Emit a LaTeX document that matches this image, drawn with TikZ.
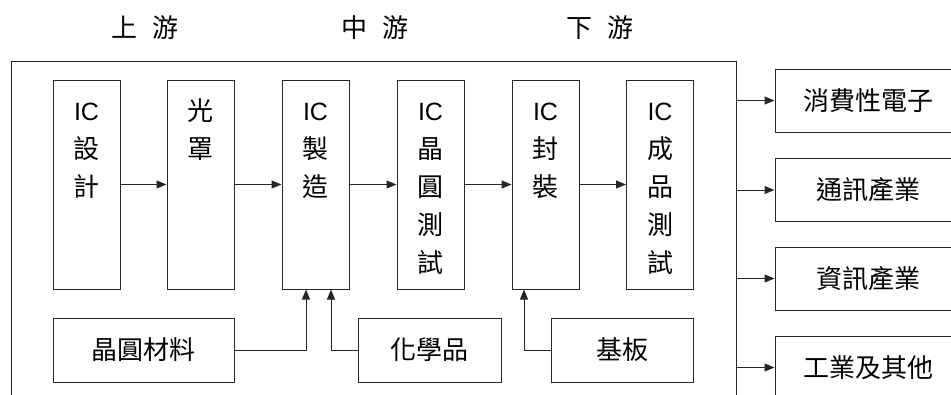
\documentclass[tikz,border=0pt]{standalone}
\usepackage{fontspec}
\setmainfont{Noto Sans CJK TC}
\newfontfamily\latf{Liberation Sans}
\usetikzlibrary{arrows.meta}
\newcommand\cjkfs{\fontsize{26pt}{38pt}\selectfont}
\newcommand\IC{{\latf\fontsize{25pt}{38pt}\selectfont IC}}
\newcommand\coltext[1]{\parbox[t]{60pt}{\centering\cjkfs #1}}
\tikzset{
 ln/.style={draw=black!85, line width=1pt},
 tall/.style={ln, minimum width=67pt, minimum height=209pt, inner sep=0pt},
 wide/.style={ln, minimum height=64pt, inner sep=0pt, font=\cjkfs},
 rbox/.style={ln, minimum width=186pt, minimum height=63pt, inner sep=0pt, font=\cjkfs},
 arr/.style={ln, -{Triangle[length=10pt,width=8pt]}},
 head/.style={font=\cjkfs, inner sep=0pt},
 colt/.style={inner sep=0pt, anchor=base}
}
\begin{document}
\begin{tikzpicture}[x=1pt,y=-1pt]
\useasboundingbox (0,0) rectangle (951,394);
\clip (0,0) rectangle (951,394);
% headings
\node[head] (h1) at (145,28) {上\hspace{0.6em}游};
\node[head] (h2) at (375,28) {中\hspace{0.6em}游};
\node[head] (h3) at (600,28) {下\hspace{0.6em}游};
% frame
\node[ln, anchor=north west, minimum width=725pt, minimum height=400pt, inner sep=0pt] (frame) at (11,61) {};
% tall boxes
\node[tall] (b1) at (86.5,184.5) {};
\node[tall] (b2) at (200.5,184.5) {};
\node[tall] (b3) at (315.5,184.5) {};
\node[tall] (b4) at (430.5,184.5) {};
\node[tall] (b5) at (545.5,184.5) {};
\node[tall] (b6) at (660,184.5) {};
\node[colt] (t1) at (86.5,120) {\coltext{\IC\\設\\計}};
\node[colt] (t2) at (200.5,120) {\coltext{光\\罩}};
\node[colt] (t3) at (315.5,120) {\coltext{\IC\\製\\造}};
\node[colt] (t4) at (430.5,120) {\coltext{\IC\\晶\\圓\\測\\試}};
\node[colt] (t5) at (545.5,120) {\coltext{\IC\\封\\裝}};
\node[colt] (t6) at (660,120) {\coltext{\IC\\成\\品\\測\\試}};
% bottom boxes
\node[wide, minimum width=181pt] (m1) at (143.5,350) {晶圓材料};
\node[wide, minimum width=143pt] (m2) at (429.5,350) {化學品};
\node[wide, minimum width=142pt] (m3) at (622,350) {基板};
% right boxes
\node[rbox] (r1) at (868,100.5) {消費性電子};
\node[rbox] (r2) at (868,190) {通訊產業};
\node[rbox] (r3) at (868,278.5) {資訊產業};
\node[rbox] (r4) at (868,367.5) {工業及其他};
% connectors
\draw[arr] (b1) -- (b2);
\draw[arr] (b2) -- (b3);
\draw[arr] (b3) -- (b4);
\draw[arr] (b4) -- (b5);
\draw[arr] (b5) -- (b6);
\draw[arr] (m1.east) -| ([xshift=-9.5pt]b3.south);
\draw[arr] (m2.west) -| ([xshift=15.5pt]b3.south);
\draw[arr] (m3.west) -| ([xshift=-21.5pt]b5.south);
\draw[arr] (frame.east |- r1) -- (r1);
\draw[arr] (frame.east |- r2) -- (r2);
\draw[arr] (frame.east |- r3) -- (r3);
\draw[arr] (frame.east |- r4) -- (r4);
\end{tikzpicture}
\end{document}
